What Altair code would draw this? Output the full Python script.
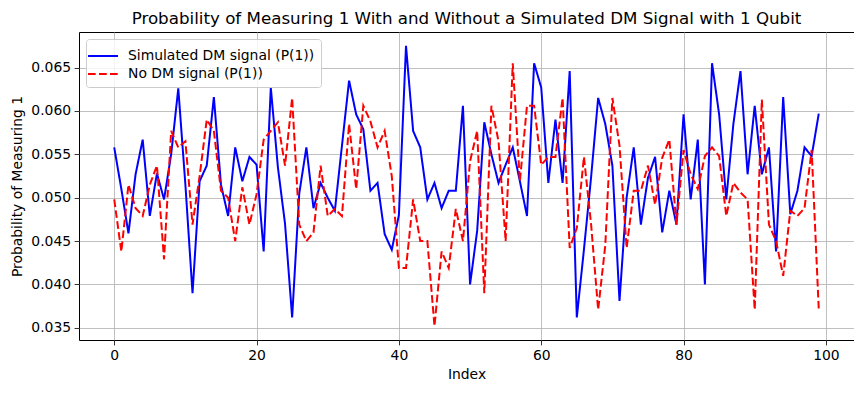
import altair as alt
import pandas as pd

index = list(range(100))

dm_signal = [0.0558, 0.0510, 0.0459, 0.0527, 0.0567, 0.0479, 0.0528, 0.0498, 0.0550, 0.0626,
             0.0515, 0.0390, 0.0519, 0.0537, 0.0616, 0.0515, 0.0479, 0.0558, 0.0519, 0.0547,
             0.0538, 0.0438, 0.0627, 0.0535, 0.0470, 0.0362, 0.0505, 0.0558, 0.0488, 0.0517,
             0.0500, 0.0485, 0.0560, 0.0635, 0.0596, 0.0579, 0.0508, 0.0517, 0.0458, 0.0440,
             0.0480, 0.0675, 0.0577, 0.0558, 0.0498, 0.0517, 0.0488, 0.0508, 0.0508, 0.0606,
             0.0400, 0.0462, 0.0587, 0.0550, 0.0517, 0.0538, 0.0558, 0.0519, 0.0479, 0.0655,
             0.0627, 0.0517, 0.0590, 0.0517, 0.0646, 0.0362, 0.0440, 0.0523, 0.0615, 0.0585,
             0.0537, 0.0381, 0.0500, 0.0558, 0.0469, 0.0523, 0.0547, 0.0460, 0.0508, 0.0469,
             0.0596, 0.0498, 0.0567, 0.0400, 0.0655, 0.0596, 0.0498, 0.0585, 0.0646, 0.0527,
             0.0606, 0.0527, 0.0558, 0.0438, 0.0616, 0.0481, 0.0508, 0.0558, 0.0548, 0.0597]

no_dm = [0.0498, 0.0438, 0.0515, 0.0488, 0.0479, 0.0515, 0.0537, 0.0429, 0.0577, 0.0558,
         0.0565, 0.0469, 0.0525, 0.0590, 0.0577, 0.0508, 0.0500, 0.0450, 0.0512, 0.0469,
         0.0504, 0.0567, 0.0577, 0.0587, 0.0537, 0.0615, 0.0469, 0.0450, 0.0460, 0.0537,
         0.0479, 0.0487, 0.0479, 0.0585, 0.0510, 0.0606, 0.0588, 0.0558, 0.0577, 0.0525,
         0.0419, 0.0419, 0.0498, 0.0450, 0.0450, 0.0352, 0.0438, 0.0419, 0.0487, 0.0450,
         0.0542, 0.0577, 0.0390, 0.0606, 0.0565, 0.0450, 0.0655, 0.0519, 0.0606, 0.0606,
         0.0538, 0.0547, 0.0547, 0.0615, 0.0442, 0.0465, 0.0547, 0.0470, 0.0371, 0.0445,
         0.0615, 0.0560, 0.0442, 0.0508, 0.0508, 0.0537, 0.0492, 0.0546, 0.0567, 0.0469,
         0.0555, 0.0527, 0.0510, 0.0548, 0.0558, 0.0548, 0.0479, 0.0517, 0.0506, 0.0498,
         0.0371, 0.0613, 0.0469, 0.0450, 0.0410, 0.0485, 0.0479, 0.0488, 0.0555, 0.0371]

series_names = ["Simulated DM signal (P(1))", "No DM signal (P(1))"]
series_colors = ["#0000ff", "#ff0000"]
series_dashes = [[1, 0], [7.7, 3.3]]

x_ticks = [0, 20, 40, 60, 80, 100]
y_ticks = [0.035, 0.040, 0.045, 0.050, 0.055, 0.060, 0.065]

df_dm = pd.DataFrame({"Index": index, "P": dm_signal, "series": series_names[0]})
df_no = pd.DataFrame({"Index": index, "P": no_dm, "series": series_names[1]})

FONT = "DejaVu Sans"

x_enc = alt.X("Index:Q",
              scale=alt.Scale(domain=[-4.95, 103.95], nice=False, zero=False),
              axis=alt.Axis(values=x_ticks, format="d", title="Index"))
y_enc = alt.Y("P:Q",
              scale=alt.Scale(domain=[0.0336, 0.0691], nice=False, zero=False),
              axis=alt.Axis(values=y_ticks, format=".3f", title="Probability of Measuring 1"))
color_enc = alt.Color("series:N",
                      scale=alt.Scale(domain=series_names, range=series_colors),
                      legend=alt.Legend(title=None, orient="none", legendX=7, legendY=7,
                                        symbolType="M-1.5,0L1.5,0", symbolSize=400,
                                        symbolStrokeWidth=2, labelFontSize=13.9,
                                        labelFont=FONT, labelColor="black", labelLimit=0,
                                        fillColor="rgba(255,255,255,0.8)",
                                        strokeColor="#cccccc", cornerRadius=3,
                                        padding=6, rowPadding=0, labelOffset=14))
dash_enc = alt.StrokeDash("series:N",
                          scale=alt.Scale(domain=series_names, range=series_dashes),
                          legend=None)

line_dm = alt.Chart(df_dm).mark_line(strokeWidth=2).encode(
    x=x_enc, y=y_enc, color=color_enc, strokeDash=dash_enc)
line_no = alt.Chart(df_no).mark_line(strokeWidth=2).encode(
    x=x_enc, y=y_enc, color=color_enc, strokeDash=dash_enc)

chart = alt.layer(line_dm, line_no).properties(
    width=775, height=308,
    title=alt.Title("Probability of Measuring 1 With and Without a Simulated DM Signal with 1 Qubit",
                    fontSize=16.7, font=FONT, fontWeight="normal", color="black",
                    anchor="middle", offset=4),
    autosize=alt.AutoSizeParams(type="none"),
    padding={"left": 71, "top": 24, "right": 0, "bottom": 45},
).configure_view(
    stroke="black", strokeWidth=1
).configure_axis(
    domain=False, grid=True, gridColor="#b0b0b0", gridWidth=0.8,
    tickColor="black", tickSize=4.9, tickWidth=0.8,
    labelFont=FONT, labelFontSize=13.9, labelColor="black", labelPadding=3.5,
    titleFont=FONT, titleFontSize=13.9, titleColor="black", titleFontWeight="normal",
).configure_axisX(titlePadding=5).configure_axisY(titlePadding=6)

chart.save("out.html", embed_options={"renderer": "svg", "actions": False})
